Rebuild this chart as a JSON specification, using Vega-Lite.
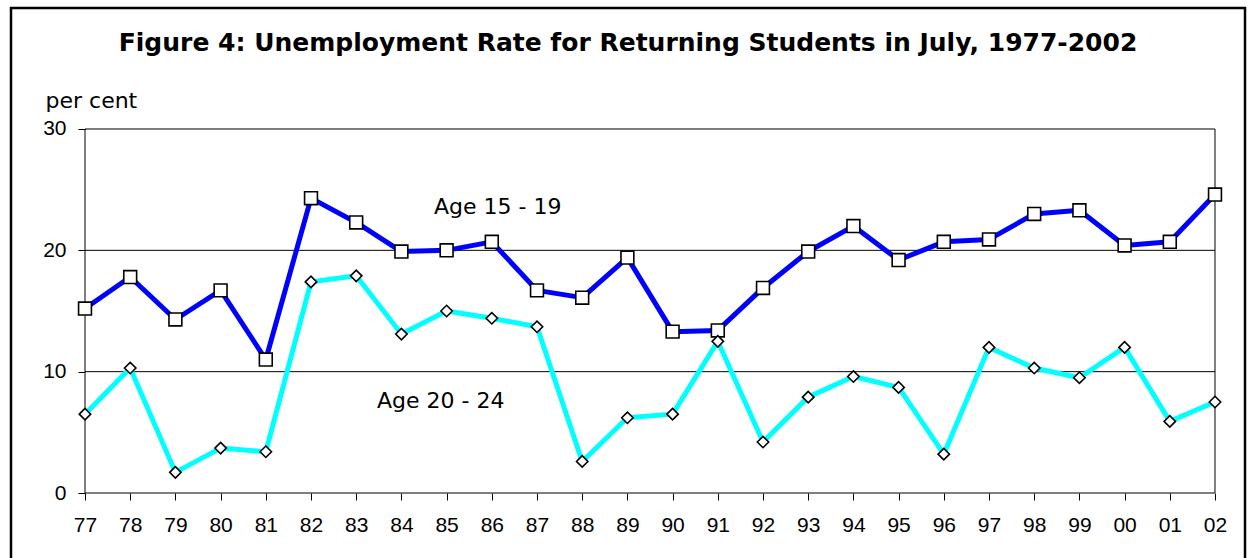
{
  "$schema": "https://vega.github.io/schema/vega-lite/v6.json",
  "width": 1234,
  "height": 560,
  "autosize": {"type": "none"},
  "padding": {"left": 11, "top": 8, "right": 3, "bottom": 0},
  "background": "white",
  "config": {
    "view": {"stroke": "black", "strokeWidth": 2.5},
    "font": "Liberation Sans"
  },
  "title": {
    "text": "Figure 4:  Unemployment Rate for Returning Students in July, 1977-2002",
    "font": "DejaVu Sans",
    "fontSize": 25,
    "fontWeight": "bold",
    "color": "black",
    "anchor": "middle",
    "frame": "group",
    "baseline": "alphabetic",
    "offset": -68
  },
  "datasets": {
    "rates": [
      {"year": 1977, "series": "Age 15 - 19", "rate": 15.2},
      {"year": 1978, "series": "Age 15 - 19", "rate": 17.8},
      {"year": 1979, "series": "Age 15 - 19", "rate": 14.3},
      {"year": 1980, "series": "Age 15 - 19", "rate": 16.7},
      {"year": 1981, "series": "Age 15 - 19", "rate": 11.0},
      {"year": 1982, "series": "Age 15 - 19", "rate": 24.3},
      {"year": 1983, "series": "Age 15 - 19", "rate": 22.3},
      {"year": 1984, "series": "Age 15 - 19", "rate": 19.9},
      {"year": 1985, "series": "Age 15 - 19", "rate": 20.0},
      {"year": 1986, "series": "Age 15 - 19", "rate": 20.7},
      {"year": 1987, "series": "Age 15 - 19", "rate": 16.7},
      {"year": 1988, "series": "Age 15 - 19", "rate": 16.1},
      {"year": 1989, "series": "Age 15 - 19", "rate": 19.4},
      {"year": 1990, "series": "Age 15 - 19", "rate": 13.3},
      {"year": 1991, "series": "Age 15 - 19", "rate": 13.4},
      {"year": 1992, "series": "Age 15 - 19", "rate": 16.9},
      {"year": 1993, "series": "Age 15 - 19", "rate": 19.9},
      {"year": 1994, "series": "Age 15 - 19", "rate": 22.0},
      {"year": 1995, "series": "Age 15 - 19", "rate": 19.2},
      {"year": 1996, "series": "Age 15 - 19", "rate": 20.7},
      {"year": 1997, "series": "Age 15 - 19", "rate": 20.9},
      {"year": 1998, "series": "Age 15 - 19", "rate": 23.0},
      {"year": 1999, "series": "Age 15 - 19", "rate": 23.3},
      {"year": 2000, "series": "Age 15 - 19", "rate": 20.4},
      {"year": 2001, "series": "Age 15 - 19", "rate": 20.7},
      {"year": 2002, "series": "Age 15 - 19", "rate": 24.6},
      {"year": 1977, "series": "Age 20 - 24", "rate": 6.5},
      {"year": 1978, "series": "Age 20 - 24", "rate": 10.3},
      {"year": 1979, "series": "Age 20 - 24", "rate": 1.7},
      {"year": 1980, "series": "Age 20 - 24", "rate": 3.7},
      {"year": 1981, "series": "Age 20 - 24", "rate": 3.4},
      {"year": 1982, "series": "Age 20 - 24", "rate": 17.4},
      {"year": 1983, "series": "Age 20 - 24", "rate": 17.9},
      {"year": 1984, "series": "Age 20 - 24", "rate": 13.1},
      {"year": 1985, "series": "Age 20 - 24", "rate": 15.0},
      {"year": 1986, "series": "Age 20 - 24", "rate": 14.4},
      {"year": 1987, "series": "Age 20 - 24", "rate": 13.7},
      {"year": 1988, "series": "Age 20 - 24", "rate": 2.6},
      {"year": 1989, "series": "Age 20 - 24", "rate": 6.2},
      {"year": 1990, "series": "Age 20 - 24", "rate": 6.5},
      {"year": 1991, "series": "Age 20 - 24", "rate": 12.5},
      {"year": 1992, "series": "Age 20 - 24", "rate": 4.2},
      {"year": 1993, "series": "Age 20 - 24", "rate": 7.9},
      {"year": 1994, "series": "Age 20 - 24", "rate": 9.6},
      {"year": 1995, "series": "Age 20 - 24", "rate": 8.7},
      {"year": 1996, "series": "Age 20 - 24", "rate": 3.2},
      {"year": 1997, "series": "Age 20 - 24", "rate": 12.0},
      {"year": 1998, "series": "Age 20 - 24", "rate": 10.3},
      {"year": 1999, "series": "Age 20 - 24", "rate": 9.5},
      {"year": 2000, "series": "Age 20 - 24", "rate": 12.0},
      {"year": 2001, "series": "Age 20 - 24", "rate": 5.9},
      {"year": 2002, "series": "Age 20 - 24", "rate": 7.5}
    ],
    "gridlines": [{"v": 0}, {"v": 10}, {"v": 20}, {"v": 30}],
    "edges": [{"edge": 1977}, {"edge": 2002}],
    "labels": [
      {"label": "Age 15 - 19", "year": 1984.72, "rate": 23.6},
      {"label": "Age 20 - 24", "year": 1983.46, "rate": 7.6}
    ]
  },
  "layer": [
    {
      "data": {"name": "gridlines"},
      "mark": {"type": "rule", "color": "black", "strokeWidth": 1},
      "encoding": {
        "y": {
          "field": "v",
          "type": "quantitative",
          "scale": {"domain": [-6.1813, 39.9725], "nice": false, "zero": false},
          "axis": {
            "orient": "left",
            "offset": -74,
            "values": [0, 10, 20, 30],
            "domain": false,
            "grid": false,
            "ticks": true,
            "tickSize": 7,
            "tickColor": "black",
            "labelFont": "Liberation Sans",
            "labelFontSize": 21,
            "labelColor": "black",
            "labelPadding": 12,
            "title": "per cent",
            "titleFont": "DejaVu Sans",
            "titleFontSize": 22,
            "titleFontWeight": "normal",
            "titleColor": "black",
            "titleAngle": 0,
            "titleAlign": "left",
            "titleBaseline": "middle",
            "titleX": -40,
            "titleY": 92
          }
        },
        "x": {
          "datum": 1977,
          "type": "quantitative",
          "scale": {"domain": [1975.36283, 2002.66372], "nice": false, "zero": false},
          "axis": {
            "orient": "bottom",
            "offset": -75,
            "values": [1977, 1978, 1979, 1980, 1981, 1982, 1983, 1984, 1985, 1986, 1987, 1988, 1989, 1990, 1991, 1992, 1993, 1994, 1995, 1996, 1997, 1998, 1999, 2000, 2001, 2002],
            "labelExpr": "substring(toString(datum.value), 2)",
            "domain": false,
            "grid": false,
            "tickSize": 7,
            "tickColor": "black",
            "labelFont": "Liberation Sans",
            "labelFontSize": 21,
            "labelColor": "black",
            "labelPadding": 14,
            "labelFlush": false,
            "labelOverlap": false,
            "title": null
          }
        },
        "x2": {"datum": 2002}
      }
    },
    {
      "data": {"name": "edges"},
      "mark": {"type": "rule", "color": "black", "strokeWidth": 1},
      "encoding": {
        "x": {"field": "edge", "type": "quantitative"},
        "y": {"datum": 0, "type": "quantitative"},
        "y2": {"datum": 30}
      }
    },
    {
      "data": {"name": "rates"},
      "transform": [{"filter": "datum.series === 'Age 15 - 19'"}],
      "mark": {"type": "line", "color": "#0000FF", "strokeWidth": 5, "strokeJoin": "round"},
      "encoding": {
        "x": {"field": "year", "type": "quantitative"},
        "y": {"field": "rate", "type": "quantitative"}
      }
    },
    {
      "data": {"name": "rates"},
      "transform": [{"filter": "datum.series === 'Age 15 - 19'"}],
      "mark": {"type": "point", "shape": "square", "size": 165, "filled": true, "fill": "white", "stroke": "black", "strokeWidth": 1.6, "opacity": 1},
      "encoding": {
        "x": {"field": "year", "type": "quantitative"},
        "y": {"field": "rate", "type": "quantitative"}
      }
    },
    {
      "data": {"name": "rates"},
      "transform": [{"filter": "datum.series === 'Age 20 - 24'"}],
      "mark": {"type": "line", "color": "#00FFFF", "strokeWidth": 5, "strokeJoin": "round"},
      "encoding": {
        "x": {"field": "year", "type": "quantitative"},
        "y": {"field": "rate", "type": "quantitative"}
      }
    },
    {
      "data": {"name": "rates"},
      "transform": [{"filter": "datum.series === 'Age 20 - 24'"}],
      "mark": {"type": "point", "shape": "diamond", "size": 130, "filled": true, "fill": "white", "stroke": "black", "strokeWidth": 1.6, "opacity": 1},
      "encoding": {
        "x": {"field": "year", "type": "quantitative"},
        "y": {"field": "rate", "type": "quantitative"}
      }
    },
    {
      "data": {"name": "labels"},
      "mark": {"type": "text", "align": "left", "baseline": "middle", "font": "DejaVu Sans", "fontSize": 22, "color": "black"},
      "encoding": {
        "x": {"field": "year", "type": "quantitative"},
        "y": {"field": "rate", "type": "quantitative"},
        "text": {"field": "label"}
      }
    }
  ]
}
